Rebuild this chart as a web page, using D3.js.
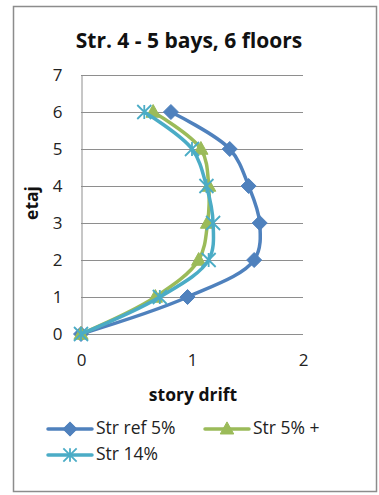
<!DOCTYPE html>
<html>
<head>
<meta charset="utf-8">
<script src="https://cdn.jsdelivr.net/npm/d3@7"></script>
<style>
  html, body { margin: 0; padding: 0; background: #fff; }
  svg { display: block; font-family: "Open Sans", Lato, sans-serif; }
</style>
</head>
<body>
<svg id="chart" width="379" height="495"></svg>
<script>
// Story drift per floor for three structural variants
const floors = [0, 1, 2, 3, 4, 5, 6];
const driftRef5 = [0, 0.96, 1.56, 1.61, 1.51, 1.34, 0.81];
const drift5Plus = [0, 0.67, 1.06, 1.14, 1.15, 1.08, 0.65];
const drift14 = [0, 0.71, 1.15, 1.19, 1.13, 1.00, 0.57];
const seriesNames = ["Str ref 5%", "Str 5% +", "Str 14%"];
const seriesColors = ["#4F81BD", "#9BBB59", "#4BACC6"];
const xTicks = [0, 1, 2];
const yTicks = [0, 1, 2, 3, 4, 5, 6, 7];

const series = [driftRef5, drift5Plus, drift14].map((vals, i) => ({
  name: seriesNames[i],
  color: seriesColors[i],
  marker: ["diamond", "triangle", "star"][i],
  points: vals.map((v, j) => ({ x: v, y: floors[j] }))
}));

const svg = d3.select("#chart");
const FONT = "'Open Sans', Lato, sans-serif";

// chart frame
svg.append("rect")
  .attr("x", 13.5).attr("y", 6.5).attr("width", 363).attr("height", 485)
  .attr("fill", "#fff").attr("stroke", "#8c8c8c").attr("stroke-width", 1.5);

const x = d3.scaleLinear().domain([0, 2]).range([81, 303]);
const y = d3.scaleLinear().domain([0, 7]).range([334, 75]);

// horizontal gridlines
svg.append("g")
  .selectAll("line").data(yTicks).join("line")
  .attr("x1", x(0)).attr("x2", x(2))
  .attr("y1", d => Math.round(y(d)) + 0.5).attr("y2", d => Math.round(y(d)) + 0.5)
  .attr("stroke", "#8e8e8e").attr("stroke-width", 1);

// y axis
const yAxis = svg.append("g")
  .attr("transform", `translate(${x(0) + 0.5},0)`)
  .call(d3.axisLeft(y).tickValues(yTicks).tickSize(0).tickPadding(19).tickFormat(d3.format("d")));
yAxis.select(".domain").attr("stroke", "#8e8e8e");
yAxis.selectAll("text").attr("font-size", 17).attr("fill", "#222")
  .attr("font-family", FONT);

// x axis
const xAxis = svg.append("g")
  .attr("transform", `translate(0,${Math.round(y(0)) + 0.5})`)
  .call(d3.axisBottom(x).tickValues(xTicks).tickSize(0).tickPadding(19).tickFormat(d3.format("d")));
xAxis.select(".domain").remove();
xAxis.selectAll("text").attr("font-size", 17).attr("fill", "#222")
  .attr("font-family", FONT);

// titles
svg.append("text")
  .attr("x", 189).attr("y", 48).attr("text-anchor", "middle")
  .attr("font-size", 21).attr("font-weight", "bold").attr("fill", "#111")
  .text("Str. 4 - 5 bays, 6 floors");

svg.append("text")
  .attr("x", 193).attr("y", 401).attr("text-anchor", "middle")
  .attr("font-size", 17.5).attr("font-weight", "bold").attr("fill", "#111")
  .text("story drift");

svg.append("text")
  .attr("transform", "translate(38,203) rotate(-90)")
  .attr("text-anchor", "middle")
  .attr("font-size", 17.5).attr("font-weight", "bold").attr("fill", "#111")
  .text("etaj");

// marker drawing
function drawMarker(g, type, color, cx, cy, scale) {
  const s = scale || 1;
  if (type === "diamond") {
    const r = 7.5 * s;
    g.append("path")
      .attr("d", `M${cx},${cy - r}L${cx + r},${cy}L${cx},${cy + r}L${cx - r},${cy}Z`)
      .attr("fill", color).attr("stroke", color).attr("stroke-width", 1);
  } else if (type === "triangle") {
    const r = 7.5 * s;
    g.append("path")
      .attr("d", `M${cx},${cy - r}L${cx + r * 0.95},${cy + r * 0.7}L${cx - r * 0.95},${cy + r * 0.7}Z`)
      .attr("fill", color).attr("stroke", color).attr("stroke-width", 1);
  } else {
    const r = 7 * s;
    g.append("path")
      .attr("d", `M${cx - r},${cy - r}L${cx + r},${cy + r}M${cx - r},${cy + r}L${cx + r},${cy - r}M${cx},${cy - r}L${cx},${cy + r}`)
      .attr("fill", "none").attr("stroke", color).attr("stroke-width", 1.8);
  }
}

const line = d3.line()
  .x(d => x(d.x)).y(d => y(d.y))
  .curve(d3.curveCatmullRom.alpha(0.5));

const plot = svg.append("g");
series.forEach(s => {
  plot.append("path")
    .datum(s.points)
    .attr("d", line)
    .attr("fill", "none")
    .attr("stroke", s.color)
    .attr("stroke-width", 3.5)
    .attr("stroke-linejoin", "round");
  const mg = plot.append("g");
  s.points.forEach(p => drawMarker(mg, s.marker, s.color, x(p.x), y(p.y)));
});

// legend
const legendItems = [
  { s: series[0], lx: 48, ty: 434 },
  { s: series[1], lx: 205, ty: 434 },
  { s: series[2], lx: 48, ty: 460 }
];
const legend = svg.append("g");
legendItems.forEach(it => {
  const ly = it.ty - 5;
  legend.append("line")
    .attr("x1", it.lx).attr("x2", it.lx + 44)
    .attr("y1", ly).attr("y2", ly)
    .attr("stroke", it.s.color).attr("stroke-width", 3.5).attr("stroke-linecap", "round");
  drawMarker(legend, it.s.marker, it.s.color, it.lx + 22, ly, 0.95);
  legend.append("text")
    .attr("x", it.lx + 48).attr("y", it.ty)
    .attr("font-size", 17.5).attr("fill", "#222")
    .attr("font-family", FONT)
    .text(it.s.name);
});
</script>
</body>
</html>
